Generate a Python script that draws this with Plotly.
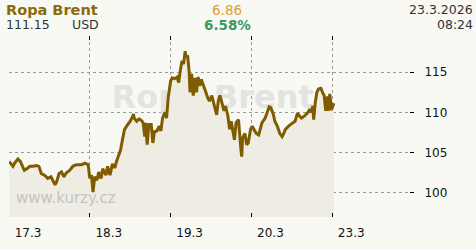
import plotly.graph_objects as go

# ---- data ----
day_labels = ["17.3", "18.3", "19.3", "20.3", "23.3"]
day_pos = [0, 1, 2, 3, 4]
y_ticks = [100, 105, 110, 115]

t = [0.00, 0.03, 0.05, 0.07, 0.11, 0.14, 0.17, 0.19, 0.22, 0.26, 0.30, 0.34, 0.37, 0.40,
     0.44, 0.48, 0.52, 0.54, 0.57, 0.59, 0.62, 0.65, 0.68, 0.71, 0.75, 0.79, 0.83, 0.90,
     0.94, 0.98, 1.00, 1.02, 1.04, 1.06, 1.09, 1.11, 1.14, 1.16, 1.20, 1.22, 1.25, 1.28,
     1.31, 1.33, 1.35, 1.38, 1.40, 1.43, 1.47, 1.50, 1.53, 1.54, 1.55, 1.58, 1.61, 1.64,
     1.66, 1.68, 1.69, 1.71, 1.73, 1.76, 1.78, 1.80, 1.83, 1.86, 1.88, 1.90, 1.93, 1.95,
     1.97, 2.00, 2.02, 2.05, 2.08, 2.10, 2.12, 2.14, 2.16, 2.18, 2.19, 2.21, 2.23, 2.24,
     2.26, 2.28, 2.30, 2.32, 2.34, 2.36, 2.38, 2.41, 2.43, 2.46, 2.48, 2.51, 2.54, 2.57,
     2.59, 2.61, 2.63, 2.66, 2.68, 2.71, 2.73, 2.75, 2.77, 2.79, 2.81, 2.84, 2.87, 2.88,
     2.89, 2.92, 2.94, 2.96, 2.99, 3.01, 3.03, 3.06, 3.09, 3.11, 3.13, 3.17, 3.20, 3.22,
     3.24, 3.27, 3.29, 3.32, 3.35, 3.38, 3.40, 3.42, 3.46, 3.48, 3.51, 3.54, 3.57, 3.60,
     3.62, 3.65, 3.68, 3.70, 3.72, 3.74, 3.76, 3.77, 3.79, 3.81, 3.83, 3.86, 3.88, 3.90,
     3.92, 3.94, 3.95, 3.97, 3.99, 4.01, 4.02]

price = [103.9, 103.5, 103.3, 103.7, 104.2, 103.9, 103.3, 102.8, 103.0, 103.3, 103.3, 103.4, 103.3, 102.4,
         102.2, 101.8, 102.0, 101.6, 101.0, 101.4, 102.4, 102.6, 102.0, 102.5, 102.8, 103.3, 103.5, 103.5,
         103.7, 103.5, 101.8, 102.2, 100.1, 102.0, 101.6, 102.6, 101.8, 103.0, 102.2, 103.3, 102.2, 103.6,
         103.1, 103.9, 104.5, 105.3, 106.4, 107.9, 108.5, 108.9, 109.5, 109.8, 109.3, 108.9, 109.2, 109.0,
         108.7, 107.0, 108.7, 106.0, 108.5, 108.5, 106.2, 107.6, 107.7, 108.3, 107.7, 109.3, 110.0, 109.3,
         111.8, 113.9, 114.3, 114.2, 114.4, 113.7, 115.2, 116.4, 116.0, 117.6, 116.8, 117.1, 115.0, 112.5,
         114.8, 112.1, 114.3, 112.5, 114.4, 113.3, 114.1, 113.1, 112.7, 111.8, 111.4, 112.1, 110.8, 109.7,
         111.4, 112.1, 111.4, 110.2, 110.8, 109.5, 107.9, 108.9, 107.7, 106.6, 108.7, 109.1, 105.4, 104.5,
         106.8, 107.4, 106.0, 106.2, 107.9, 108.3, 107.9, 107.4, 107.2, 107.9, 108.7, 109.3, 110.2, 110.7,
         110.6, 109.8, 108.9, 108.3, 107.4, 107.0, 107.4, 107.9, 108.3, 108.5, 108.7, 108.9, 109.9, 109.5,
         109.3, 109.5, 109.8, 110.0, 110.4, 110.0, 110.8, 109.1, 111.2, 112.5, 112.9, 113.0, 112.5, 112.1,
         110.2, 112.0, 110.2, 112.3, 110.3, 111.0, 111.15]

title = "Ropa Brent"
last_price = "111.15"
currency = "USD"
change_abs = "6.86"
change_pct = "6.58%"
date_str = "23.3.2026"
time_str = "08:24"
site = "www.kurzy.cz"

# ---- layout helpers (pixel -> paper) ----
W, H = 476, 249
ML, MR, MT, MB = 9, 67, 36, 17
PW, PH = W - ML - MR, H - MT - MB


def px(x):
    return (x - ML) / PW


def py(y):
    return (H - MB - y) / PH


FONT = "DejaVu Sans"
BG = "#f9f9f4"
LINE = "#7f5c00"
FILL = "#efece3"

fig = go.Figure()

# big watermark under the fill
fig.add_trace(go.Scatter(
    x=[2.52], y=[111.6], mode="text", text=[f"<b>{title}</b>"],
    textfont=dict(family=FONT, size=32, color="#e3e3e0"),
    hoverinfo="skip", showlegend=False, cliponaxis=False))

fig.add_trace(go.Scatter(
    x=t, y=[97] * len(t), mode="lines", line=dict(width=0),
    hoverinfo="skip", showlegend=False))
fig.add_trace(go.Scatter(
    x=t, y=price, mode="lines", fill="tonexty", fillcolor=FILL,
    line=dict(color=LINE, width=3), showlegend=False))

fig.update_layout(
    width=W, height=H, autosize=False,
    margin=dict(l=ML, r=MR, t=MT, b=MB, pad=0),
    paper_bgcolor=BG, plot_bgcolor=BG,
    font=dict(family=FONT, color="#111111", size=12),
    showlegend=False,
)

fig.update_xaxes(
    range=[0, 4.95], tickvals=day_pos, ticktext=day_labels,
    ticks="inside", ticklen=4, tickwidth=1, tickcolor="#000000", mirror="ticks",
    showline=False, zeroline=False,
    showgrid=True, gridcolor="#9a9a9a", griddash="dot", gridwidth=1,
    tickfont=dict(family=FONT, size=12, color="#111111"),
    ticklabelshift=19, ticklabelstandoff=7,
)
fig.update_yaxes(
    range=[97, 119.5], side="right", tickvals=y_ticks,
    ticks="outside", ticklen=4, tickwidth=1, tickcolor="#000000",
    showline=False, zeroline=False,
    showgrid=True, gridcolor="#9a9a9a", griddash="dot", gridwidth=1,
    tickfont=dict(family=FONT, size=12, color="#111111"),
    ticklabelstandoff=8,
)

ann = []


def add(text, x, y, xanchor, size, color, bold=False):
    ann.append(dict(
        text=f"<b>{text}</b>" if bold else text,
        x=px(x), y=py(y), xref="paper", yref="paper",
        xanchor=xanchor, yanchor="middle", showarrow=False, borderpad=0,
        font=dict(family=FONT, size=size, color=color)))


add(title, 5, 7.5, "left", 14.5, "#8a6a0c", bold=True)
add(last_price, 5, 24, "left", 12.5, "#333333")
add(currency, 71, 24, "left", 12.5, "#333333")
add(change_abs, 227, 7.5, "center", 13.5, "#dca032")
add(change_pct, 227, 24, "center", 13.5, "#3b9a62", bold=True)
add(date_str, 474, 7.5, "right", 12.5, "#333333")
add(time_str, 474, 24, "right", 12.5, "#333333")
add(site, 15, 211, "left", 15, "#c4c4c4")

fig.update_layout(annotations=ann)

fig.write_html("out.html")
